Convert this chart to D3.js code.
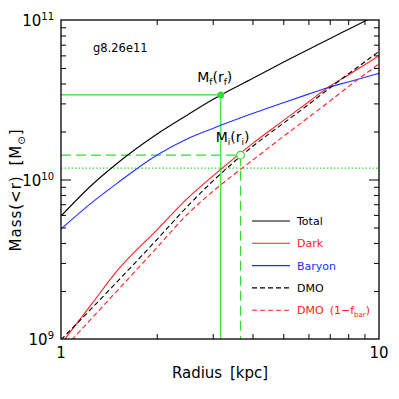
<!DOCTYPE html>
<html>
<head>
<meta charset="utf-8">
<script src="https://cdn.jsdelivr.net/npm/d3@7"></script>
<style>
  body { margin: 0; background: #fff; }
  svg { display: block; font-family: "DejaVu Sans", sans-serif; }
  .tick text { display: none; }
</style>
</head>
<body>
<svg width="399" height="399"></svg>
<script>
// radius grid [kpc] and enclosed masses [Msun]
const radius = [1, 1.25, 1.5, 2, 2.5, 3, 4, 5, 6, 7, 8, 10];
const massTotal = [5.9e9, 9.24e9, 1.26e10, 1.92e10, 2.54e10, 3.17e10, 4.30e10, 5.43e10, 6.53e10, 7.64e10, 8.73e10, 1.09e11];
const massDark = [9.3e8, 1.66e9, 2.67e9, 4.82e9, 7.62e9, 1.05e10, 1.68e10, 2.34e10, 3.06e10, 3.84e10, 4.52e10, 5.96e10];
const massBaryon = [4.89e9, 7.16e9, 9.46e9, 1.42e10, 1.80e10, 2.09e10, 2.59e10, 3.03e10, 3.43e10, 3.80e10, 4.09e10, 4.63e10];
const massDMO = [9.9e8, 1.56e9, 2.28e9, 4.19e9, 6.80e9, 9.76e9, 1.61e10, 2.25e10, 2.95e10, 3.75e10, 4.58e10, 6.35e10];
const massDMOfbar = [8.3e8, 1.35e9, 2.0e9, 3.73e9, 6.06e9, 8.41e9, 1.32e10, 1.86e10, 2.45e10, 3.10e10, 3.81e10, 5.31e10];

// final / initial radius-mass markers
const rFinal = 3.18, mFinal = 3.39e10;
const rInit = 3.67, mInit = 1.42e10;
const mDarkAtRf = 1.18e10;

const legendNames = ["Total", "Dark", "Baryon", "DMO", "DMO"];
const xTickLabels = [1, 10];
const yTickExps = [9, 10, 11];

const margin = { top: 20, right: 20, bottom: 60, left: 61 };
const width = 399, height = 399;

const x = d3.scaleLog().domain([1, 10]).range([margin.left, width - margin.right]);
const y = d3.scaleLog().domain([1e9, 1e11]).range([height - margin.bottom, margin.top]);

const green = "#33dd33";
const series = [
  { name: "Total", values: massTotal, color: "#000", dash: null },
  { name: "Dark", values: massDark, color: "#ff2020", dash: null },
  { name: "Baryon", values: massBaryon, color: "#2030ff", dash: null },
  { name: "DMO", values: massDMO, color: "#000", dash: "5,3" },
  { name: "DMOfbar", values: massDMOfbar, color: "#ff2020", dash: "5,3" }
];

const svg = d3.select("svg");

svg.append("clipPath").attr("id", "plot")
  .append("rect")
  .attr("x", x.range()[0]).attr("y", y.range()[1])
  .attr("width", x.range()[1] - x.range()[0])
  .attr("height", y.range()[0] - y.range()[1]);

// minor ticks 2..9 per decade
const xMinor = d3.range(2, 10);
const yMinor = [];
[1e9, 1e10].forEach(d => d3.range(2, 10).forEach(k => yMinor.push(d * k)));

const axes = svg.append("g").attr("stroke-width", 1);
axes.append("g").attr("transform", `translate(0,${y.range()[0]})`)
  .call(d3.axisBottom(x).tickValues(xMinor).tickSize(-5).tickFormat(""));
axes.append("g").attr("transform", `translate(0,${y.range()[1]})`)
  .call(d3.axisTop(x).tickValues(xMinor).tickSize(-5).tickFormat(""));
axes.append("g").attr("transform", `translate(${x.range()[0]},0)`)
  .call(d3.axisLeft(y).tickValues(yMinor).tickSize(-5).tickFormat(""));
axes.append("g").attr("transform", `translate(${x.range()[0]},0)`)
  .call(d3.axisLeft(y).tickValues([1e10]).tickSize(-10).tickFormat(""));
axes.append("g").attr("transform", `translate(${x.range()[1]},0)`)
  .call(d3.axisRight(y).tickValues(yMinor).tickSize(-5).tickFormat(""));
axes.append("g").attr("transform", `translate(${x.range()[1]},0)`)
  .call(d3.axisRight(y).tickValues([1e10]).tickSize(-10).tickFormat(""));
axes.selectAll(".domain").remove();
axes.selectAll(".tick line").attr("stroke", "#000");

// green guide lines
const guides = svg.append("g").attr("stroke", green).attr("stroke-width", 1.2).attr("fill", "none");
guides.append("path")
  .attr("d", `M${x.range()[0]},${y(mFinal)}H${x(rFinal)}V${y.range()[0]}`);
guides.append("path")
  .attr("stroke-dasharray", "10,5")
  .attr("d", `M${x.range()[0]},${y(mInit)}H${x(rInit)}V${y.range()[0]}`);
guides.append("line")
  .attr("stroke-dasharray", "1.5,2")
  .attr("x1", x.range()[0]).attr("x2", x.range()[1])
  .attr("y1", y(mDarkAtRf)).attr("y2", y(mDarkAtRf));

// mass profiles
const line = d3.line()
  .x((d, i) => x(radius[i]))
  .y(d => y(d))
  .curve(d3.curveMonotoneX);

svg.append("g").attr("clip-path", "url(#plot)")
  .selectAll("path")
  .data(series)
  .join("path")
  .attr("fill", "none")
  .attr("stroke", d => d.color)
  .attr("stroke-width", 1.1)
  .attr("stroke-dasharray", d => d.dash)
  .attr("d", d => line(d.values));

// markers
svg.append("circle")
  .attr("cx", x(rFinal)).attr("cy", y(mFinal)).attr("r", 3.5)
  .attr("fill", green);
svg.append("circle")
  .attr("cx", x(rInit)).attr("cy", y(mInit)).attr("r", 3.8)
  .attr("fill", "#fff").attr("stroke", green).attr("stroke-width", 1.2);

const subLabel = (g, cx, by, sub) => {
  const t = g.append("text").attr("x", cx).attr("y", by)
    .attr("text-anchor", "middle").attr("font-size", 14);
  t.append("tspan").text("M");
  t.append("tspan").attr("font-size", 9).attr("dy", 3).text(sub);
  t.append("tspan").attr("dy", -3).text("(r");
  t.append("tspan").attr("font-size", 9).attr("dy", 3).text(sub);
  t.append("tspan").attr("dy", -3).text(")");
};
subLabel(svg, x(rFinal) - 6, y(mFinal) - 13, "f");
subLabel(svg, x(rInit) - 8, y(mInit) - 13, "i");

// frame
svg.append("rect")
  .attr("x", x.range()[0]).attr("y", y.range()[1])
  .attr("width", x.range()[1] - x.range()[0])
  .attr("height", y.range()[0] - y.range()[1])
  .attr("fill", "none").attr("stroke", "#000").attr("stroke-width", 1.3);

// tick labels
svg.append("g").selectAll("text")
  .data(xTickLabels)
  .join("text")
  .attr("x", d => x(d)).attr("y", y.range()[0] + 19)
  .attr("text-anchor", "middle").attr("font-size", 15)
  .text(d => d);

const yLab = svg.append("g").selectAll("text")
  .data(yTickExps)
  .join("text")
  .attr("x", 54).attr("y", d => y(Math.pow(10, d)) + 6)
  .attr("text-anchor", "end").attr("font-size", 15);
yLab.append("tspan").text("10");
yLab.append("tspan").attr("font-size", 10).attr("dy", -6).text(d => d);

// axis titles
svg.append("text")
  .attr("x", 220).attr("y", 378)
  .attr("text-anchor", "middle").attr("font-size", 15)
  .attr("word-spacing", 3)
  .text("Radius [kpc]");

const yTitle = svg.append("text")
  .attr("transform", "translate(21,190) rotate(-90)")
  .attr("text-anchor", "middle").attr("font-size", 15)
  .attr("letter-spacing", 1)
  .attr("word-spacing", 4);
yTitle.append("tspan").text("Mass(<r) [M");
yTitle.append("tspan").attr("font-size", 10).attr("dy", 4).text("\u2299");
yTitle.append("tspan").attr("dy", -4).text("]");

svg.append("text")
  .attr("x", 93).attr("y", 52).attr("font-size", 11.5)
  .text("g8.26e11");

// legend
const legend = svg.append("g")
  .selectAll("g")
  .data(series)
  .join("g")
  .attr("transform", (d, i) => `translate(252,${221 + i * 22.3})`);
legend.append("line")
  .attr("x1", 0).attr("x2", 38)
  .attr("stroke", d => d.color).attr("stroke-width", 1.1)
  .attr("stroke-dasharray", d => d.dash);
const legText = legend.append("text")
  .attr("x", 45).attr("y", 4).attr("font-size", 11)
  .attr("fill", d => d.color);
legText.append("tspan").text((d, i) => legendNames[i]);
legText.filter(d => d.name === "DMOfbar").each(function () {
  const t = d3.select(this);
  t.append("tspan").attr("dx", 6).text("(1\u2212f");
  t.append("tspan").attr("font-size", 7).attr("dy", 3).text("bar");
  t.append("tspan").attr("dy", -3).text(")");
});
</script>
</body>
</html>
